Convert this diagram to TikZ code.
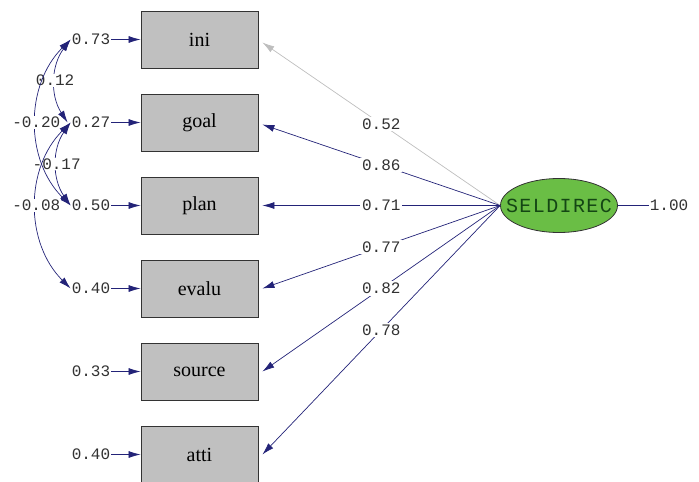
\documentclass[tikz,border=0pt]{standalone}
\usepackage{fontspec}
\setmainfont{Liberation Serif}
\newfontfamily\numfont{Liberation Mono}
\newfontfamily\lvfont[LetterSpace=7]{Liberation Mono}
\usetikzlibrary{arrows.meta,shapes.geometric}
\definecolor{navy}{RGB}{35,35,120}
\definecolor{boxgray}{RGB}{192,192,192}
\definecolor{lvgreen}{RGB}{106,190,69}
\definecolor{lvtext}{RGB}{20,70,20}
\definecolor{numcol}{RGB}{50,50,50}
\definecolor{lightln}{RGB}{190,190,190}
\begin{document}
\begin{tikzpicture}[x=1pt,y=-1pt,
  obs/.style={draw=black!80, line width=0.8pt, fill=boxgray, minimum width=117pt, minimum height=57pt, inner sep=0pt, font=\fontsize{20}{20}\selectfont},
  num/.style={font=\numfont\fontsize{16}{16}\selectfont, text=numcol, inner sep=1pt},
  lab/.style={num, fill=white, inner sep=2pt},
  tip/.style={-{Latex[length=12pt,width=7pt]}},
  arr/.style={draw=navy, line width=0.7pt, tip},
  cov/.style={draw=navy, line width=0.7pt, {Latex[length=12pt,width=7pt]}-{Latex[length=12pt,width=7pt]}},
]
\useasboundingbox (0,0) rectangle (699,482);

% observed variables
\node[obs] (ini)    at (199.5,39.5)  {ini};
\node[obs] (goal)   at (199.5,122.5) {goal};
\node[obs] (plan)   at (199.5,205.5) {plan};
\node[obs] (evalu)  at (199.5,288.5) {evalu};
\node[obs] (source) at (199.5,371.5) {source};
\node[obs] (atti)   at (199.5,454.5) {atti};

% latent variable
\node[ellipse, draw=black!80, line width=0.8pt, fill=lvgreen, minimum width=117pt, minimum height=54pt, inner sep=0pt] (S) at (559,205.5) {};
\node[font=\lvfont\fontsize{20}{20}\selectfont, text=lvtext, inner sep=0pt] (Stxt) at (S.center) {SELDIREC};
\node[num] (one) at (669,205.5) {1.00};
\draw[draw=navy, line width=0.7pt] (S.east) -- (one.west);

% error variances
\node[num] (e1) at (91,39.5)  {0.73};
\node[num] (e2) at (91,122.5) {0.27};
\node[num] (e3) at (91,205.5) {0.50};
\node[num] (e4) at (91,288.5) {0.40};
\node[num] (e5) at (91,371.5) {0.33};
\node[num] (e6) at (91,454.5) {0.40};
\foreach \e/\b in {e1/ini,e2/goal,e3/plan,e4/evalu,e5/source,e6/atti}
  \draw[arr] (\e.east) -- (\b.west);

% loadings
\draw[draw=lightln, line width=0.7pt, tip] (S.west) -- node[lab]{0.52} ([xshift=4pt,yshift=-3pt]ini.east);
\draw[arr] (S.west) -- node[lab]{0.86} ([xshift=4pt,yshift=-2pt]goal.east);
\draw[arr] (S.west) -- node[lab]{0.71} ([xshift=4pt]plan.east);
\draw[arr] (S.west) -- node[lab]{0.77} ([xshift=4pt]evalu.east);
\draw[arr] (S.west) -- node[lab]{0.82} ([xshift=4pt]source.east);
\draw[arr] (S.west) -- node[lab]{0.78} ([xshift=4pt]atti.east);

% covariances (inner first)
\draw[cov] (e1.west) to[bend right=35] node[lab, inner sep=1pt]{0.12} ([xshift=-3pt]e2.west);
\draw[cov] (e2.west) to[bend right=35] node[lab, inner sep=1pt]{-0.17} (e3.west);
\draw[cov] (e1.west) to[bend right=45] node[lab, inner sep=1pt]{-0.20} (e3.west);
\draw[cov] (e2.west) to[bend right=45] node[lab, inner sep=1pt]{-0.08} (e4.west);
\end{tikzpicture}
\end{document}
